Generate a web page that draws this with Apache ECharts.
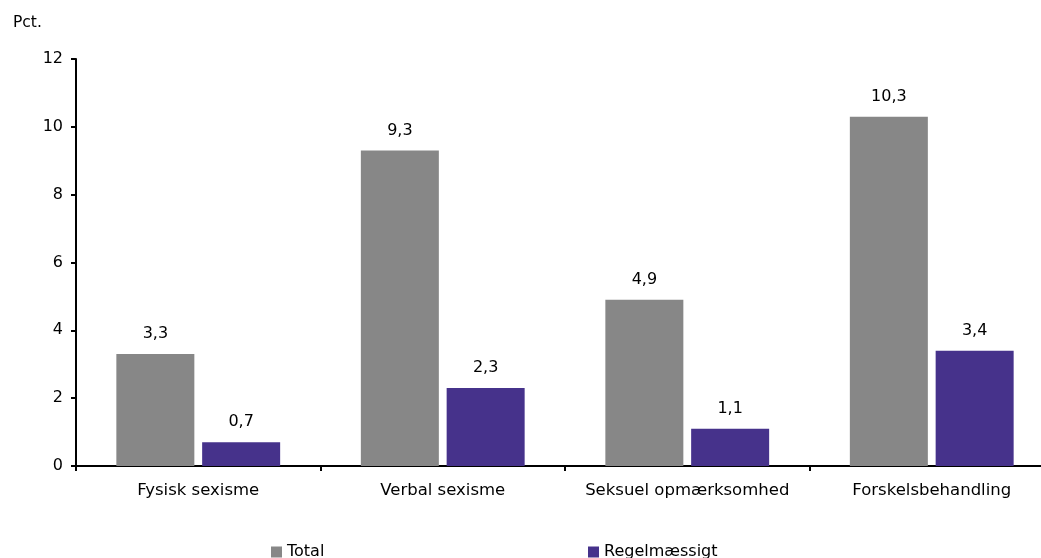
<!DOCTYPE html>
<html>
<head>
<meta charset="utf-8">
<script src="https://cdn.jsdelivr.net/npm/echarts@6/dist/echarts.min.js"></script>
<style>html,body{margin:0;padding:0;background:#fff;}#c{width:1041px;height:558px;}</style>
</head>
<body>
<div id="c"></div>
<script>
const categories = ['Fysisk sexisme', 'Verbal sexisme', 'Seksuel opmærksomhed', 'Forskelsbehandling'];
const totalValues = [3.3, 9.3, 4.9, 10.3];
const regelValues = [0.7, 2.3, 1.1, 3.4];
const yTicks = [0, 2, 4, 6, 8, 10, 12];

const font = 'DejaVu Sans, Liberation Sans, Arial, sans-serif';
const chart = echarts.init(document.getElementById('c'), null, {renderer: 'canvas'});
const fmt = p => String(p.value).replace('.', ',');
chart.setOption({
  animation: false,
  backgroundColor: '#fff',
  textStyle: {fontFamily: font},
  title: {text: 'Pct.', left: 8, top: 10, textStyle: {fontFamily: font, fontSize: 15.5, fontWeight: 'normal', color: '#000'}},
  legend: [
    {data: ['Total'], left: 266, top: 539, itemWidth: 11, itemHeight: 11, itemGap: 4,
     icon: 'rect', textStyle: {fontFamily: font, fontSize: 16, color: '#000', padding: [0,0,0,0]}},
    {data: ['Regelmæssigt'], left: 583, top: 539, itemWidth: 11, itemHeight: 11, itemGap: 4,
     icon: 'rect', textStyle: {fontFamily: font, fontSize: 16, color: '#000', padding: [0,0,0,0]}}
  ],
  grid: {left: 76, right: -13, top: 59, bottom: 92, containLabel: false, outerBoundsMode: 'none'},
  xAxis: {
    type: 'category', data: categories,
    axisLine: {lineStyle: {color: '#000', width: 2}},
    axisTick: {show: true, alignWithLabel: false, length: 5, lineStyle: {color: '#000', width: 2}},
    axisLabel: {interval: 0, fontFamily: font, fontSize: 16.5, color: '#000', margin: 16}
  },
  yAxis: {
    type: 'value', min: yTicks[0], max: yTicks[yTicks.length-1], interval: 2,
    splitLine: {show: false},
    axisLine: {show: true, lineStyle: {color: '#000', width: 2}},
    axisTick: {show: true, length: 5, lineStyle: {color: '#000', width: 2}},
    axisLabel: {fontFamily: font, fontSize: 16, color: '#000', margin: 13}
  },
  series: [
    {name: 'Total', type: 'bar', data: totalValues, barWidth: 78, barGap: '10%',
     itemStyle: {color: '#878787'},
     label: {show: true, position: 'top', distance: 12, formatter: fmt, fontFamily: font, fontSize: 16, color: '#000'}},
    {name: 'Regelmæssigt', type: 'bar', data: regelValues, barWidth: 78,
     itemStyle: {color: '#46328B'},
     label: {show: true, position: 'top', distance: 12, formatter: fmt, fontFamily: font, fontSize: 16, color: '#000'}}
  ]
});
</script>
</body>
</html>
